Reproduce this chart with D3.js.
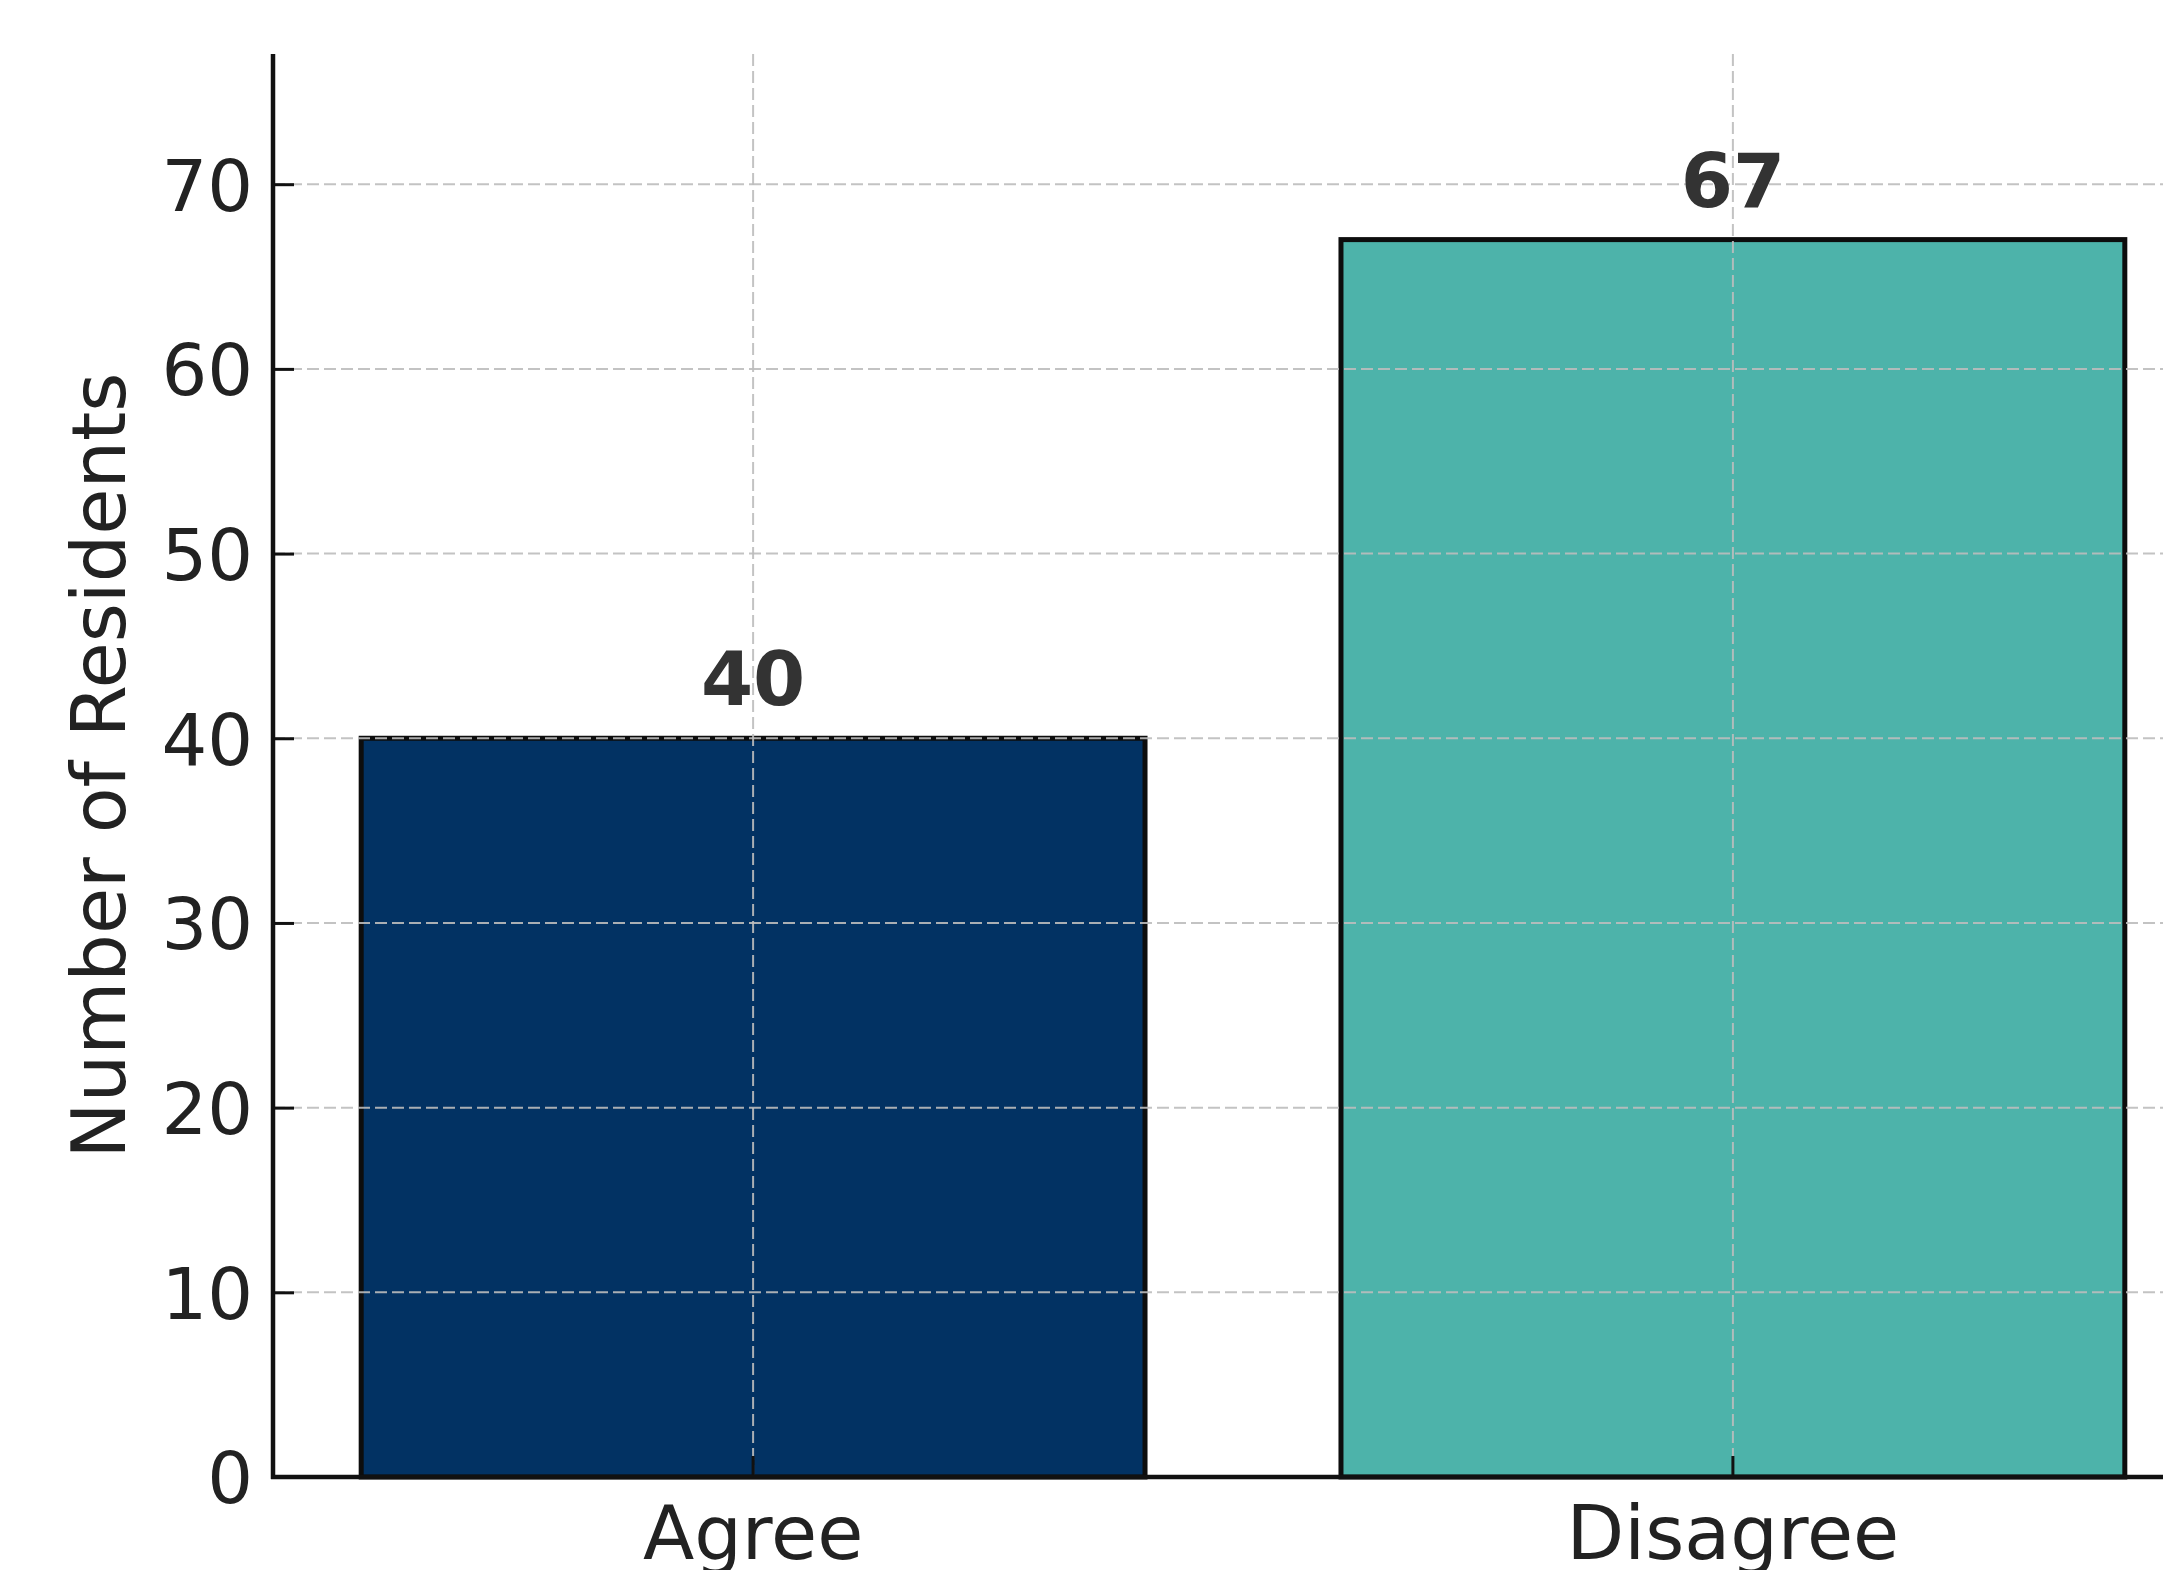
<!DOCTYPE html>
<html>
<head>
<meta charset="utf-8">
<script src="https://cdn.jsdelivr.net/npm/d3@7"></script>
<style>
    html, body { margin: 0; padding: 0; background: #fff; }
    svg { display: block; font-family: "DejaVu Sans", sans-serif; }
</style>
</head>
<body>
<svg id="chart" width="2163" height="1570"></svg>
<script>
let categories = ["Agree", "Disagree"]
let counts = [40, 67]
let barColors = ["#023263", "#4db3aa"]
let yTicks = [0, 10, 20, 30, 40, 50, 60, 70]
let yLabel = "Number of Residents"

let width = 2163, height = 1570
// the figure is cropped: the plot runs past the right edge
let plotLeft = 273, plotRight = 2213, plotTop = 54, plotBottom = 1477

let svg = d3.select("svg#chart")

let x = d3.scaleBand()
    .domain(categories)
    .range([plotLeft, plotRight])
    .paddingInner(0.2)
    .paddingOuter(0.09)

let y = d3.scaleLinear()
    .domain([0, d3.max(counts) * 1.15])
    .range([plotBottom, plotTop])

let data = categories.map((c, i) => ({cat: c, value: counts[i], color: barColors[i]}))

// bars
svg.append("g")
    .classed("bars", true)
    .selectAll("rect")
    .data(data)
    .join("rect")
        .attr("x", d => x(d.cat))
        .attr("y", d => y(d.value))
        .attr("width", x.bandwidth())
        .attr("height", d => y(0) - y(d.value))
        .attr("fill", d => d.color)
        .attr("stroke", "#0d0d0d")
        .attr("stroke-width", 5)

// grid sits on top of the bars in the original
let grid = svg.append("g").classed("grid", true)
grid.selectAll("line.h")
    .data(yTicks.filter(t => t > 0))
    .join("line")
        .classed("h", true)
        .attr("x1", plotLeft)
        .attr("x2", width)
        .attr("y1", d => y(d))
        .attr("y2", d => y(d))
grid.selectAll("line.v")
    .data(categories)
    .join("line")
        .classed("v", true)
        .attr("x1", d => x(d) + x.bandwidth()/2)
        .attr("x2", d => x(d) + x.bandwidth()/2)
        .attr("y1", plotTop)
        .attr("y2", plotBottom)
grid.selectAll("line")
    .attr("stroke", "#bdbdbd")
    .attr("stroke-opacity", 0.9)
    .attr("stroke-width", 2)
    .attr("stroke-dasharray", "12 5")

// value labels
svg.append("g")
    .classed("values", true)
    .selectAll("text")
    .data(data)
    .join("text")
        .attr("x", d => x(d.cat) + x.bandwidth()/2)
        .attr("y", d => y(d.value) - 33)
        .attr("text-anchor", "middle")
        .attr("font-size", 75)
        .attr("font-weight", "bold")
        .attr("fill", "#333")
        .text(d => d.value)

// axes, ticks pointing inward
let yAxis = svg.append("g")
    .attr("transform", `translate(${plotLeft},0)`)
    .call(d3.axisLeft(y).tickValues(yTicks).tickSizeInner(-21).tickSizeOuter(0).tickPadding(20))
let xAxis = svg.append("g")
    .attr("transform", `translate(0,${plotBottom})`)
    .call(d3.axisBottom(x).tickSizeInner(-21).tickSizeOuter(0).tickPadding(28))

for (let ax of [yAxis, xAxis]) {
    ax.select(".domain").remove()
    ax.selectAll(".tick line")
        .attr("stroke", "#111")
        .attr("stroke-width", 3)
    ax.selectAll(".tick text")
        .attr("font-family", "DejaVu Sans")
        .attr("fill", "#222")
}
yAxis.selectAll(".tick text").attr("font-size", 72).attr("dy", "0.36em")
xAxis.selectAll(".tick text").attr("font-size", 75).attr("dy", "0.72em")

// spines
svg.append("line")
    .attr("x1", plotLeft).attr("x2", plotLeft)
    .attr("y1", plotTop).attr("y2", plotBottom + 2)
    .attr("stroke", "#111").attr("stroke-width", 4.5)
svg.append("line")
    .attr("x1", plotLeft - 2).attr("x2", width)
    .attr("y1", plotBottom).attr("y2", plotBottom)
    .attr("stroke", "#111").attr("stroke-width", 4.5)

svg.append("text")
    .attr("transform", `translate(125,${(plotTop + plotBottom)/2}) rotate(-90)`)
    .attr("text-anchor", "middle")
    .attr("font-size", 75)
    .attr("fill", "#222")
    .text(yLabel)
</script>
</body>
</html>
